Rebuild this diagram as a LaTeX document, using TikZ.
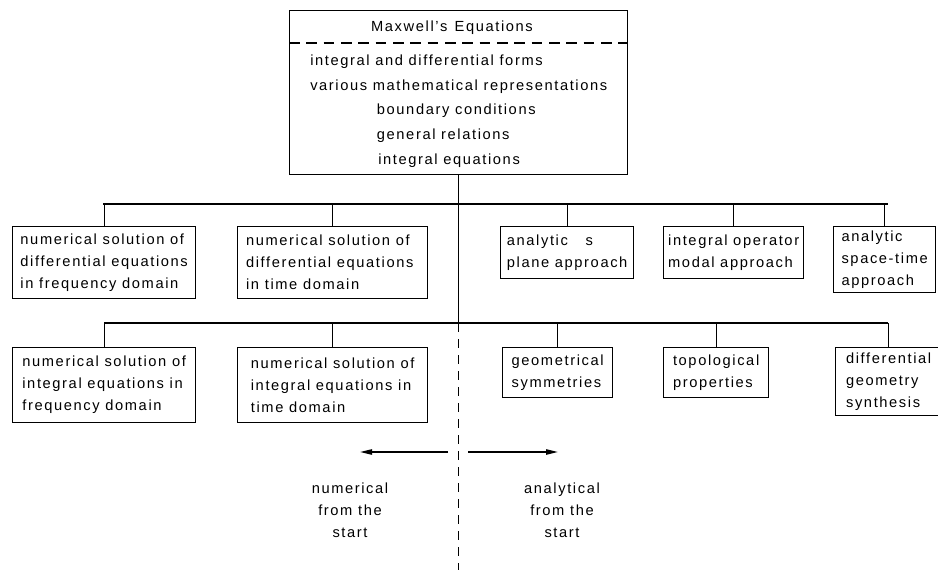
\documentclass[tikz,border=0pt]{standalone}
\usepackage{fontspec}
\setmainfont{Liberation Sans}[LetterSpace=11]
\usetikzlibrary{arrows.meta}
\begin{document}
\begin{tikzpicture}[x=0.75pt,y=-0.75pt,
  ln/.style={line width=1pt},
  txt/.style={font=\fontsize{11}{16.5}\selectfont},
  box/.style={draw, line width=1pt, anchor=north west, inner xsep=3pt, inner ysep=0pt, align=left, font=\fontsize{11}{16.5}\selectfont},
  arr/.style={line width=1pt, -{Triangle[length=9pt,width=4pt]}}
]
\useasboundingbox (0,0) rectangle (938,570);
\clip (0,0) rectangle (938,570);

% top box
\node[draw, line width=1pt, anchor=north west, inner sep=0pt, minimum width=253.5pt, minimum height=123pt] (maxwell) at (289,10) {};
\node[txt] (title) at (452,28) {Maxwell's\hspace{0.5em}Equations};
\draw[ln, dash pattern=on 8pt off 5pt] (maxwell.north west) ++(0,33) -- ++(338,0);
\node[anchor=north west, inner sep=0pt, align=left, font=\fontsize{11}{18.4}\selectfont] (body) at (310,55)
  {integral and differential forms\\various mathematical representations\\\hspace*{50pt}boundary conditions\\\hspace*{50pt}general relations\\\hspace*{51pt}integral equations};

% row 1
\node[box, minimum width=137.25pt, minimum height=54pt] (A) at (12,226) {numerical solution of\\differential equations\\in frequency domain};
\node[box, minimum width=142.5pt, minimum height=54pt] (B) at (237,226) {numerical solution of\\differential equations\\in time domain\hspace*{45pt}};
\node[box, minimum width=99.75pt, minimum height=39pt] (C) at (500,226) {analytic\hspace{1.2em}s\\plane approach};
\node[box, minimum width=105pt, minimum height=39pt] (D) at (663,226) {integral operator\\modal approach};
\node[box, minimum width=76.5pt, minimum height=49.5pt] (E) at (833,226) {analytic\\space-time\\approach};

% row 2
\node[box, minimum width=137.25pt, minimum height=56.25pt] (F) at (12,347) {numerical solution of\\integral equations in\\frequency domain};
\node[box, minimum width=142.5pt, minimum height=56.25pt] (G) at (237,347) {numerical solution of\\integral equations in\\time domain};
\node[box, minimum width=82.5pt, minimum height=37.5pt] (I) at (502,347) {geometrical\\symmetries};
\node[box, minimum width=78.75pt, minimum height=37.5pt] (J) at (663,347) {topological\\properties};
\node[box, minimum width=79.5pt, minimum height=51pt] (H) at (835,347) {differential\\geometry\\synthesis};

% connectors
\coordinate (r1a) at (103,204);
\coordinate (r1b) at (888,204);
\coordinate (r2a) at (104,323);
\coordinate (r2b) at (888,323);
\coordinate (bot) at (0,570);
\draw[ln] (r1a) -- (r1b);
\draw[ln] (r2a) -- (r2b);
\foreach \n in {A,B,C,D,E} { \draw[ln] (\n.north) -- (\n.north |- r1a); }
\foreach \n in {F,G,I,J,H} { \draw[ln] (\n.north) -- (\n.north |- r2a); }
\draw[ln] (maxwell.south) -- (maxwell.south |- r2a);
\draw[ln, dash pattern=on 7pt off 5pt] (maxwell.south |- r2a) -- (maxwell.south |- bot);

% arrows
\coordinate (la1) at (448,452);
\coordinate (la2) at (360,452);
\coordinate (ra1) at (468,452);
\coordinate (ra2) at (558,452);
\draw[arr] (la1) -- (la2);
\draw[arr] (ra1) -- (ra2);

\node[txt, align=center] (num) at (350,510) {numerical\\from the\\start};
\node[txt, align=center] (ana) at (562,510) {analytical\\from the\\start};
\end{tikzpicture}
\end{document}
